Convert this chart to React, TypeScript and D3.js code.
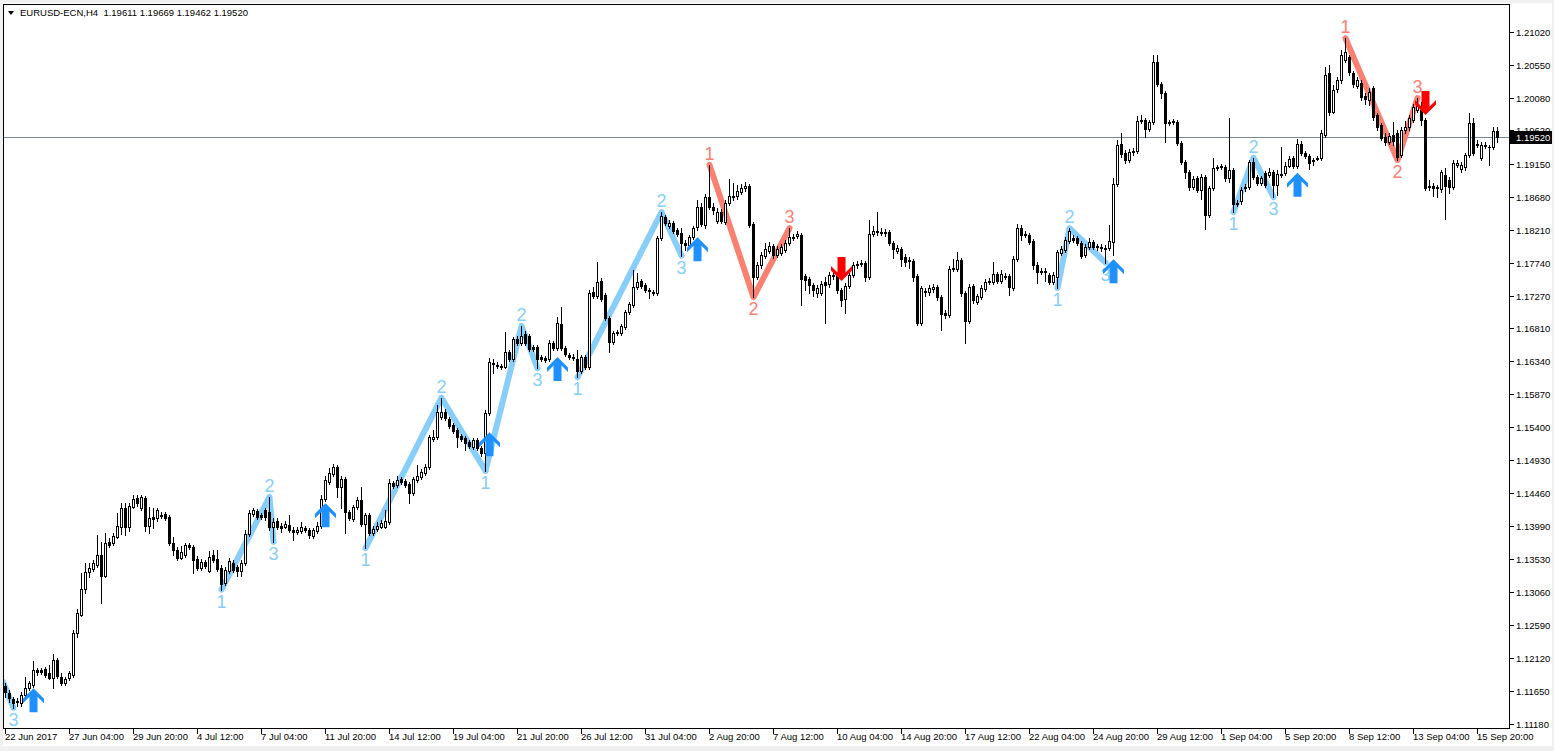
import React from "react";
import * as d3 from "d3";

// ---------- data ----------
const symbolName = "EURUSD-ECN,H4";

const opens = [
  1.1172,1.1162,1.1154,1.1151,1.1148,1.1159,1.1169,1.1173,1.1195,1.1195,
  1.1196,1.1191,1.1183,1.1209,1.1185,1.1176,1.1183,1.1188,1.1247,1.1273,
  1.1310,1.1334,1.1338,1.1344,1.1358,1.1329,1.1377,1.1375,1.1384,1.1398,
  1.1425,1.1398,1.1427,1.1439,1.1425,1.1439,1.1400,1.1412,1.1411,1.1415,
  1.1417,1.1412,1.1375,1.1365,1.1354,1.1358,1.1373,1.1370,1.1353,1.1340,
  1.1348,1.1336,1.1358,1.1353,1.1340,1.1318,1.1336,1.1347,1.1341,1.1336,
  1.1347,1.1388,1.1417,1.1421,1.1415,1.1422,1.1420,1.1398,1.1407,1.1400,
  1.1398,1.1401,1.1394,1.1391,1.1392,1.1397,1.1394,1.1385,1.1392,1.1400,
  1.1438,1.1462,1.1474,1.1483,1.1455,1.1466,1.1420,1.1410,1.1427,1.1436,
  1.1402,1.1415,1.1390,1.1395,1.1398,1.1398,1.1405,1.1461,1.1458,1.1466,
  1.1464,1.1459,1.1446,1.1465,1.1469,1.1475,1.1483,1.1523,1.1526,1.1555,
  1.1562,1.1552,1.1543,1.1536,1.1528,1.1525,1.1519,1.1512,1.1522,1.1510,
  1.1503,1.1560,1.1631,1.1628,1.1627,1.1626,1.1647,1.1637,1.1665,1.1660,
  1.1673,1.1670,1.1654,1.1654,1.1640,1.1638,1.1637,1.1660,1.1653,1.1687,
  1.1653,1.1643,1.1640,1.1637,1.1620,1.1640,1.1626,1.1732,1.1727,1.1748,
  1.1728,1.1695,1.1661,1.1674,1.1674,1.1683,1.1704,1.1714,1.1739,1.1748,
  1.1742,1.1735,1.1732,1.1731,1.1809,1.1839,1.1826,1.1830,1.1820,1.1816,
  1.1802,1.1799,1.1811,1.1825,1.1853,1.1828,1.1867,1.1853,1.1833,1.1846,
  1.1832,1.1859,1.1867,1.1869,1.1875,1.1880,1.1883,1.1829,1.1754,1.1771,
  1.1784,1.1791,1.1798,1.1785,1.1788,1.1792,1.1802,1.1811,1.1812,1.1813,
  1.1755,1.1751,1.1742,1.1731,1.1731,1.1747,1.1744,1.1757,1.1757,1.1735,
  1.1722,1.1741,1.1757,1.1771,1.1772,1.1774,1.1754,1.1815,1.1819,1.1818,
  1.1818,1.1818,1.1802,1.1791,1.1793,1.1782,1.1778,1.1776,1.1755,1.1688,
  1.1734,1.1732,1.1737,1.1739,1.1725,1.1702,1.1700,1.1765,1.1765,1.1778,
  1.1731,1.1691,1.1741,1.1718,1.1725,1.1737,1.1747,1.1747,1.1758,1.1748,
  1.1755,1.1755,1.1738,1.1779,1.1823,1.1815,1.1813,1.1805,1.1771,1.1762,
  1.1762,1.1757,1.1747,1.1754,1.1788,1.1792,1.1805,1.1809,1.1809,1.1802,
  1.1785,1.1796,1.1803,1.1798,1.1796,1.1795,1.1795,1.1803,1.1886,1.1943,
  1.1930,1.1920,1.1931,1.1933,1.1975,1.1977,1.1964,1.1974,1.2059,1.2028,
  1.2015,1.1974,1.1974,1.1974,1.1944,1.1917,1.1903,1.1882,1.1894,1.1877,
  1.1896,1.1842,1.1880,1.1909,1.1910,1.1910,1.1894,1.1906,1.1857,1.1862,
  1.1880,1.1882,1.1917,1.1896,1.1887,1.1902,1.1899,1.1903,1.1884,1.1900,
  1.1902,1.1912,1.1923,1.1912,1.1943,1.1930,1.1926,1.1920,1.1921,1.1923,
  1.1955,1.2044,1.1988,1.2021,1.2034,1.2062,1.2066,1.2044,1.2025,1.2030,
  1.2011,1.2005,1.2022,1.1984,1.1970,1.1953,1.1946,1.1955,1.1958,1.1927,
  1.1963,1.1967,1.1977,1.1991,1.1994,1.1977,1.1883,1.1883,1.1882,1.1879,
  1.1899,1.1892,1.1882,1.1913,1.1907,1.1910,1.1927,1.1973,1.1943,1.1923,
  1.1941,1.1938,1.1938,1.19611,
];

const highs = [
  1.1176,1.1166,1.1156,1.1155,1.1164,1.1185,1.1179,1.1208,1.1198,1.1198,
  1.1199,1.1202,1.1218,1.1212,1.1191,1.1185,1.1193,1.1252,1.1282,1.1333,
  1.1347,1.1347,1.1351,1.1387,1.1377,1.1390,1.1382,1.1390,1.1418,1.1432,
  1.1432,1.1432,1.1444,1.1444,1.1444,1.1442,1.1427,1.1425,1.1425,1.1420,
  1.1420,1.1415,1.1384,1.1370,1.1371,1.1375,1.1375,1.1373,1.1357,1.1353,
  1.1351,1.1364,1.1365,1.1365,1.1344,1.1341,1.1354,1.1351,1.1344,1.1351,
  1.1394,1.1422,1.1425,1.1424,1.1418,1.1425,1.1441,1.1411,1.1411,1.1404,
  1.1407,1.1415,1.1398,1.1398,1.1405,1.1400,1.1397,1.1397,1.1405,1.1444,
  1.1471,1.1482,1.1488,1.1486,1.1471,1.1469,1.1422,1.1429,1.1441,1.1455,
  1.1418,1.1418,1.1400,1.1405,1.1408,1.1422,1.1466,1.1464,1.1471,1.1469,
  1.1466,1.1462,1.1469,1.1486,1.1481,1.1488,1.1529,1.1536,1.1572,1.1582,
  1.1566,1.1555,1.1546,1.1539,1.1530,1.1528,1.1522,1.1525,1.1525,1.1513,
  1.1565,1.1638,1.1637,1.1633,1.1630,1.1675,1.1650,1.1668,1.1670,1.1684,
  1.1677,1.1673,1.1657,1.1657,1.1643,1.1641,1.1664,1.1663,1.1697,1.1711,
  1.1656,1.1646,1.1644,1.1650,1.1643,1.1643,1.1735,1.1739,1.1775,1.1752,
  1.1731,1.1698,1.1677,1.1678,1.1687,1.1707,1.1718,1.1764,1.1759,1.1751,
  1.1745,1.1738,1.1735,1.1812,1.1846,1.1842,1.1835,1.1833,1.1823,1.1823,
  1.1806,1.1813,1.1826,1.1863,1.1859,1.1872,1.1913,1.1859,1.1852,1.1850,
  1.1863,1.1893,1.1887,1.1884,1.1886,1.1889,1.1886,1.1832,1.1775,1.1789,
  1.1802,1.1803,1.1801,1.1798,1.1801,1.1806,1.1823,1.1815,1.1819,1.1816,
  1.1758,1.1754,1.1745,1.1742,1.1748,1.1754,1.1761,1.1761,1.1759,1.1738,
  1.1745,1.1761,1.1775,1.1776,1.1778,1.1776,1.1835,1.1826,1.1846,1.1823,
  1.1822,1.1820,1.1805,1.1799,1.1796,1.1786,1.1782,1.1779,1.1758,1.1741,
  1.1738,1.1742,1.1744,1.1742,1.1728,1.1707,1.1769,1.1779,1.1789,1.1781,
  1.1734,1.1744,1.1744,1.1729,1.1742,1.1751,1.1752,1.1775,1.1761,1.1764,
  1.1759,1.1758,1.1784,1.1829,1.1828,1.1819,1.1816,1.1808,1.1775,1.1766,
  1.1766,1.1759,1.1761,1.1792,1.1798,1.1810,1.1823,1.1813,1.1812,1.1805,
  1.1801,1.1809,1.1806,1.1801,1.1801,1.1799,1.1828,1.1894,1.1948,1.1958,
  1.1934,1.1936,1.1937,1.1983,1.1984,1.1980,1.1977,1.2069,1.2069,1.2031,
  1.2018,1.1977,1.1978,1.1977,1.1947,1.1920,1.1906,1.1897,1.1897,1.1900,
  1.1899,1.1883,1.1923,1.1913,1.1914,1.1913,1.1980,1.1909,1.1863,1.1882,
  1.1886,1.1920,1.1923,1.1899,1.1897,1.1904,1.1909,1.1906,1.1906,1.1938,
  1.1917,1.1926,1.1926,1.1950,1.1947,1.1933,1.1929,1.1923,1.1926,1.1963,
  1.2052,1.2055,1.2027,1.2038,1.2076,1.2093,1.2069,1.2047,1.2038,1.2034,
  1.2015,1.2022,1.2025,1.1987,1.1973,1.1958,1.1958,1.1974,1.1963,1.1967,
  1.1975,1.1984,1.1999,1.2008,1.2003,1.1980,1.1892,1.1887,1.1884,1.1906,
  1.1909,1.1896,1.1920,1.1920,1.1917,1.1930,1.1987,1.1980,1.1948,1.1946,
  1.1946,1.1941,1.1967,1.19669,
];

const lows = [
  1.1156,1.1149,1.1141,1.1144,1.1144,1.1156,1.1166,1.1171,1.1188,1.1189,
  1.1185,1.1182,1.1169,1.1183,1.1173,1.1173,1.1181,1.1185,1.1242,1.1272,
  1.1304,1.1327,1.1336,1.1341,1.1290,1.1327,1.1370,1.1373,1.1382,1.1388,
  1.1387,1.1392,1.1425,1.1428,1.1422,1.1392,1.1390,1.1397,1.1407,1.1411,
  1.1408,1.1373,1.1358,1.1351,1.1353,1.1355,1.1367,1.1333,1.1337,1.1337,
  1.1340,1.1334,1.1348,1.1336,1.1309,1.1316,1.1333,1.1334,1.1329,1.1329,
  1.1344,1.1385,1.1414,1.1410,1.1410,1.1408,1.1394,1.1377,1.1395,1.1391,
  1.1397,1.1391,1.1380,1.1388,1.1390,1.1391,1.1382,1.1382,1.1390,1.1397,
  1.1435,1.1459,1.1471,1.1441,1.1425,1.1390,1.1408,1.1407,1.1424,1.1400,
  1.1368,1.1387,1.1387,1.1392,1.1397,1.1397,1.1402,1.1454,1.1455,1.1459,
  1.1455,1.1432,1.1444,1.1462,1.1466,1.1472,1.1481,1.1520,1.1523,1.1552,
  1.1550,1.1539,1.1532,1.1512,1.1520,1.1508,1.1510,1.1509,1.1508,1.1499,
  1.1478,1.1557,1.1617,1.1624,1.1623,1.1624,1.1634,1.1634,1.1657,1.1657,
  1.1657,1.1648,1.1648,1.1624,1.1634,1.1633,1.1634,1.1650,1.1650,1.1650,
  1.1641,1.1637,1.1636,1.1611,1.1617,1.1623,1.1623,1.1724,1.1724,1.1720,
  1.1693,1.1647,1.1658,1.1671,1.1671,1.1680,1.1701,1.1711,1.1737,1.1738,
  1.1732,1.1724,1.1728,1.1728,1.1806,1.1828,1.1823,1.1816,1.1812,1.1784,
  1.1792,1.1796,1.1808,1.1820,1.1826,1.1823,1.1850,1.1843,1.1830,1.1830,
  1.1829,1.1856,1.1863,1.1865,1.1872,1.1876,1.1825,1.1725,1.1751,1.1766,
  1.1781,1.1788,1.1781,1.1782,1.1785,1.1789,1.1799,1.1806,1.1809,1.1714,
  1.1735,1.1731,1.1727,1.1725,1.1728,1.1688,1.1739,1.1751,1.1731,1.1712,
  1.1702,1.1738,1.1754,1.1766,1.1769,1.1748,1.1751,1.1812,1.1813,1.1813,
  1.1812,1.1799,1.1781,1.1788,1.1769,1.1769,1.1766,1.1748,1.1685,1.1685,
  1.1727,1.1728,1.1732,1.1721,1.1678,1.1695,1.1697,1.1762,1.1762,1.1727,
  1.1660,1.1688,1.1717,1.1715,1.1722,1.1734,1.1744,1.1744,1.1745,1.1745,
  1.1751,1.1728,1.1735,1.1776,1.1806,1.1811,1.1801,1.1765,1.1745,1.1758,
  1.1748,1.1744,1.1744,1.1738,1.1785,1.1789,1.1802,1.1803,1.1799,1.1781,
  1.1782,1.1793,1.1793,1.1792,1.1791,1.1774,1.1792,1.1785,1.1883,1.1924,
  1.1916,1.1917,1.1927,1.1930,1.1973,1.1953,1.1961,1.1971,1.2025,1.2008,
  1.1946,1.1970,1.1971,1.1941,1.1914,1.1894,1.1877,1.1879,1.1875,1.1865,
  1.1822,1.1839,1.1877,1.1906,1.1907,1.1890,1.1889,1.1846,1.1855,1.1858,
  1.1876,1.1879,1.1893,1.1884,1.1884,1.1882,1.1896,1.1867,1.1870,1.1896,
  1.1899,1.1910,1.1909,1.1909,1.1927,1.1923,1.1907,1.1913,1.1920,1.1920,
  1.1953,1.1984,1.1987,1.2017,1.2030,1.2059,1.2041,1.2024,1.2022,1.2005,
  1.2000,1.1998,1.1977,1.1963,1.1948,1.1941,1.1943,1.1941,1.1920,1.1924,
  1.1958,1.1963,1.1974,1.1988,1.1970,1.1877,1.1877,1.1869,1.1867,1.1875,
  1.1836,1.1873,1.1879,1.1910,1.1903,1.1906,1.1924,1.1927,1.1938,1.1920,
  1.1937,1.1913,1.1936,1.19462,
];

const closes = [
  1.1164,1.1155,1.1148,1.1149,1.1159,1.1169,1.1176,1.1195,1.1192,1.1192,
  1.1188,1.1183,1.1209,1.1186,1.1176,1.1182,1.1191,1.1247,1.1276,1.1310,
  1.1334,1.1340,1.1347,1.1358,1.1329,1.1375,1.1373,1.1385,1.1400,1.1425,
  1.1398,1.1428,1.1438,1.1432,1.1441,1.1400,1.1411,1.1410,1.1422,1.1414,
  1.1411,1.1375,1.1365,1.1354,1.1363,1.1373,1.1370,1.1351,1.1340,1.1348,
  1.1343,1.1355,1.1351,1.1338,1.1317,1.1337,1.1350,1.1337,1.1336,1.1347,
  1.1388,1.1418,1.1422,1.1412,1.1412,1.1412,1.1398,1.1405,1.1398,1.1397,
  1.1402,1.1394,1.1391,1.1394,1.1398,1.1394,1.1387,1.1394,1.1400,1.1438,
  1.1465,1.1475,1.1483,1.1455,1.1466,1.1420,1.1411,1.1427,1.1436,1.1402,
  1.1415,1.1390,1.1395,1.1400,1.1404,1.1407,1.1461,1.1456,1.1465,1.1462,
  1.1458,1.1446,1.1466,1.1471,1.1476,1.1483,1.1526,1.1526,1.1562,1.1562,
  1.1553,1.1542,1.1535,1.1526,1.1523,1.1518,1.1513,1.1522,1.1510,1.1503,
  1.1560,1.1633,1.1630,1.1627,1.1626,1.1647,1.1637,1.1665,1.1660,1.1670,
  1.1660,1.1651,1.1651,1.1637,1.1637,1.1636,1.1660,1.1653,1.1688,1.1653,
  1.1644,1.1640,1.1638,1.1620,1.1640,1.1626,1.1731,1.1727,1.1747,1.1722,
  1.1695,1.1661,1.1674,1.1675,1.1684,1.1704,1.1715,1.1739,1.1747,1.1741,
  1.1735,1.1734,1.1731,1.1809,1.1840,1.1830,1.1830,1.1819,1.1815,1.1802,
  1.1799,1.1811,1.1823,1.1853,1.1829,1.1867,1.1853,1.1849,1.1846,1.1833,
  1.1859,1.1869,1.1869,1.1876,1.1880,1.1883,1.1828,1.1754,1.1771,1.1785,
  1.1793,1.1798,1.1785,1.1793,1.1796,1.1802,1.1811,1.1809,1.1815,1.1751,
  1.1749,1.1742,1.1735,1.1738,1.1744,1.1742,1.1757,1.1755,1.1735,1.1721,
  1.1741,1.1757,1.1771,1.1772,1.1774,1.1754,1.1815,1.1819,1.1818,1.1816,
  1.1816,1.1802,1.1793,1.1795,1.1779,1.1775,1.1776,1.1754,1.1688,1.1738,
  1.1732,1.1738,1.1739,1.1725,1.1701,1.1700,1.1765,1.1766,1.1778,1.1731,
  1.1691,1.1739,1.1721,1.1727,1.1738,1.1747,1.1748,1.1758,1.1748,1.1758,
  1.1754,1.1739,1.1779,1.1823,1.1813,1.1813,1.1803,1.1771,1.1761,1.1761,
  1.1761,1.1747,1.1757,1.1789,1.1793,1.1806,1.1819,1.1806,1.1802,1.1784,
  1.1796,1.1803,1.1796,1.1796,1.1795,1.1793,1.1805,1.1886,1.1941,1.1929,
  1.1920,1.1931,1.1933,1.1975,1.1977,1.1964,1.1974,1.2059,1.2028,1.2015,
  1.1973,1.1973,1.1975,1.1944,1.1917,1.1903,1.1882,1.1893,1.1877,1.1896,
  1.1842,1.1880,1.1909,1.1910,1.1911,1.1894,1.1906,1.1857,1.1859,1.1877,
  1.1882,1.1917,1.1896,1.1887,1.1894,1.1884,1.1903,1.1884,1.1900,1.1899,
  1.1912,1.1921,1.1912,1.1943,1.1930,1.1926,1.1916,1.1919,1.1923,1.1958,
  1.2041,1.1988,1.2020,1.2034,1.2069,1.2074,1.2045,1.2028,1.2034,1.2010,
  1.2007,1.2017,1.1981,1.1967,1.1951,1.1946,1.1954,1.1947,1.1924,1.1963,
  1.1967,1.1980,1.1995,1.1997,1.1977,1.1880,1.1882,1.1880,1.1880,1.1903,
  1.1883,1.1882,1.1916,1.1916,1.1913,1.1927,1.1973,1.1930,1.1941,1.1941,
  1.1940,1.1939,1.1961,1.19520,
];

const yTickValues = [
  1.2102, 1.2055, 1.2008, 1.1962, 1.1915, 1.1868, 1.1821, 1.1774, 1.1727, 1.1681, 1.1634,
  1.1587, 1.154, 1.1493, 1.1446, 1.1399, 1.1353, 1.1306, 1.1259, 1.1212, 1.1165, 1.1118,
];

const xTickLabels = [
  "22 Jun 2017", "27 Jun 04:00", "29 Jun 20:00", "4 Jul 12:00", "7 Jul 04:00", "11 Jul 20:00",
  "14 Jul 12:00", "19 Jul 04:00", "21 Jul 20:00", "26 Jul 12:00", "31 Jul 04:00", "2 Aug 20:00",
  "7 Aug 12:00", "10 Aug 04:00", "14 Aug 20:00", "17 Aug 12:00", "22 Aug 04:00", "24 Aug 20:00",
  "29 Aug 12:00", "1 Sep 04:00", "5 Sep 20:00", "8 Sep 12:00", "13 Sep 04:00", "15 Sep 20:00",
];
const barsPerXTick = 16;

// zigzag patterns (bar index, price) and labels
const zigzagBars = [[-0.6, 2], [54, 66, 67], [90, 109, 120], [120, 129, 133], [143, 164, 169], [176, 187, 196], [263, 266, 275], [307, 312, 317], [335, 348, 353]];
const zigzagPrices = [[1.1178, 1.1141], [1.1309, 1.1441, 1.1377], [1.1368, 1.1582, 1.1478], [1.1478, 1.1684, 1.1624], [1.1611, 1.1846, 1.1784], [1.1913, 1.1725, 1.1823], [1.1738, 1.1823, 1.1774], [1.1846, 1.1923, 1.1867], [1.2093, 1.1920, 1.2008]];
const zigzagLabels = [["", "3"], ["1", "2", "3"], ["1", "2", ""], ["1", "2", "3"], ["1", "2", "3"], ["1", "2", "3"], ["1", "2", "3"], ["1", "2", "3"], ["1", "2", "3"]];
const zigzagBullish = [true, true, true, true, true, false, true, true, false];

// signal arrows
const arrowBars = [7, 80, 121, 138, 173, 209, 277, 323, 355];
const arrowPrices = [1.1169, 1.1432, 1.1533, 1.1640, 1.1810, 1.1748, 1.1779, 1.1902, 1.1984];
const arrowIsUp = [true, true, true, true, true, false, true, true, false];

// ---------- component ----------
const W = 1554;
const H = 751;
const FONT = "'Liberation Sans', Arial, sans-serif";

export default function App() {
  const N = opens.length;
  const plotL = 3.5, plotT = 4.5, plotR = 1509.5, plotB = 728.5;
  const x = d3.scaleLinear().domain([0, N - 1]).range([5.5, 5.5 + 4 * (N - 1)]);
  const y = d3.scaleLinear().domain([1.1118, 1.2102]).range([724, 32]);
  const ry = (v: number) => Math.round(y(v));
  const f5 = d3.format(".5f");

  const lastO = opens[N - 1], lastH = highs[N - 1], lastL = lows[N - 1], lastC = closes[N - 1];
  const header = `${symbolName}  ${f5(lastO)} ${f5(lastH)} ${f5(lastL)} ${f5(lastC)}`;

  const line = d3.line<[number, number]>().x((d) => x(d[0])).y((d) => y(d[1]));

  const shape = [[0, 0], [10.5, 10.5], [10.5, 15], [4, 8.5], [4, 24], [-4, 24], [-4, 8.5], [-10.5, 15], [-10.5, 10.5]];
  const arrowUpPts = (cx: number, ty: number) =>
    shape.map(([a, b]) => `${cx + a},${ty + b}`).join(" ");
  const arrowDownPts = (cx: number, by: number) =>
    shape.map(([a, b]) => `${cx + a},${by - b}`).join(" ");

  const priceY = ry(lastC) + 0.5;

  return (
    <svg
      width={W}
      height={H}
      style={{ position: "absolute", left: 0, top: 0, display: "block" }}
      fontFamily={FONT}
    >
      <defs>
        <clipPath id="plotClip">
          <rect x={plotL + 0.5} y={plotT + 0.5} width={plotR - plotL - 1} height={plotB - plotT - 1} />
        </clipPath>
      </defs>
      <rect x={0} y={0} width={W} height={H} fill="#f0f0f0" />
      <rect x={3} y={3} width={W - 5} height={743} fill="#ffffff" />

      {/* current price line */}
      <line x1={plotL} x2={plotR} y1={priceY} y2={priceY} stroke="#778899" strokeWidth={1} shapeRendering="crispEdges" />

      {/* zigzag lines */}
      <g clipPath="url(#plotClip)">
        {zigzagBars.map((bars, k) => (
          <path
            key={"z" + k}
            d={line(bars.map((b, j) => [b, zigzagPrices[k][j]] as [number, number])) || ""}
            fill="none"
            stroke={zigzagBullish[k] ? "#87CEFA" : "#FA8072"}
            strokeWidth={6}
            strokeLinecap="round"
            strokeLinejoin="round"
          />
        ))}
      </g>

      {/* candles */}
      <g shapeRendering="crispEdges">
        {opens.map((o, i) => {
          const c = closes[i];
          const cx = x(i);
          const yh = ry(highs[i]);
          const yl = ry(lows[i]);
          const yo = ry(o);
          const yc = ry(c);
          const top = Math.min(yo, yc);
          const bot = Math.max(yo, yc);
          const bull = c >= o;
          return (
            <g key={"c" + i}>
              <line x1={cx} x2={cx} y1={yh} y2={yl + 1} stroke="#000" strokeWidth={1} />
              {bot === top ? (
                <line x1={cx - 1.5} x2={cx + 1.5} y1={top + 0.5} y2={top + 0.5} stroke="#000" strokeWidth={1} />
              ) : bull ? (
                <rect x={cx - 1} y={top + 0.5} width={2} height={bot - top} fill="#fff" stroke="#000" strokeWidth={1} />
              ) : (
                <rect x={cx - 1.5} y={top} width={3} height={bot - top + 1} fill="#000" />
              )}
            </g>
          );
        })}
      </g>

      {/* zigzag labels */}
      <g clipPath="url(#plotClip)" fontSize={18}>
        {zigzagBars.map((bars, k) =>
          bars.map((b, j) => {
            const lab = zigzagLabels[k][j];
            if (!lab) return null;
            const isHigh = zigzagBullish[k] ? lab === "2" : lab !== "2";
            const py = y(zigzagPrices[k][j]) + (isHigh ? -11 : 12);
            return (
              <text
                key={"l" + k + "_" + j}
                x={x(b)}
                y={py}
                textAnchor="middle"
                dominantBaseline="central"
                fill={zigzagBullish[k] ? "#87CEFA" : "#FA8072"}
              >
                {lab}
              </text>
            );
          })
        )}
      </g>

      {/* arrows */}
      <g>
        {arrowBars.map((b, k) =>
          arrowIsUp[k] ? (
            <polygon key={"a" + k} points={arrowUpPts(x(b), y(arrowPrices[k]))} fill="#1E90FF" />
          ) : (
            <polygon key={"a" + k} points={arrowDownPts(x(b), y(arrowPrices[k]))} fill="#FF0000" />
          )
        )}
      </g>

      {/* frame */}
      <rect x={plotL} y={plotT} width={plotR - plotL} height={plotB - plotT} fill="none" stroke="#000" strokeWidth={1} shapeRendering="crispEdges" />

      {/* y axis */}
      <g fontSize={9.5} fill="#000">
        {yTickValues.map((v, k) => {
          const ty = ry(v) + 0.5;
          return (
            <g key={"y" + k}>
              <line x1={plotR} x2={plotR + 4} y1={ty} y2={ty} stroke="#000" shapeRendering="crispEdges" />
              <text x={1516} y={ty} dominantBaseline="central">
                {f5(v)}
              </text>
            </g>
          );
        })}
      </g>

      {/* current price box (covers the nearby axis label, as in the terminal) */}
      <rect x={1510} y={priceY - 6.5} width={42} height={13} fill="#000" />
      <text x={1516} y={priceY} dominantBaseline="central" fontSize={9.5} fill="#fff">
        {f5(lastC)}
      </text>

      {/* x axis */}
      <g fontSize={9.5} fill="#000">
        {xTickLabels.map((lab, k) => {
          const tx = x(k * barsPerXTick);
          return (
            <g key={"x" + k}>
              <line x1={tx} x2={tx} y1={plotB} y2={plotB + 5} stroke="#000" shapeRendering="crispEdges" />
              <text x={tx - 0.5} y={740}>
                {lab}
              </text>
            </g>
          );
        })}
      </g>

      {/* header */}
      <polygon points="8,11 14,11 11,15" fill="#000" />
      <text x={20} y={16} fontSize={9.5} fill="#000" style={{ whiteSpace: "pre" }}>
        {header}
      </text>
    </svg>
  );
}
